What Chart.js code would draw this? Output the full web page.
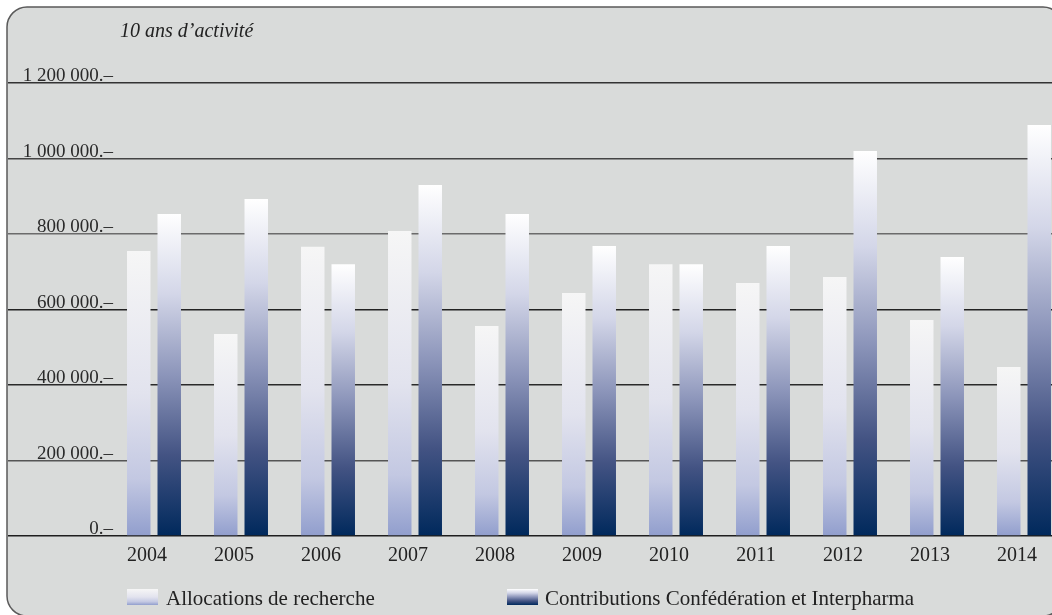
<!DOCTYPE html>
<html>
<head>
<meta charset="utf-8">
<script src="https://cdn.jsdelivr.net/npm/chart.js@4.4.0/dist/chart.umd.min.js"></script>
<style>
  html, body { margin: 0; padding: 0; overflow: hidden; background: #ffffff; }
  #wrap { width: 1070px; height: 615px; }
</style>
</head>
<body>
<div id="wrap"><canvas id="activite-chart"></canvas></div>
<script>
var years = ["2004", "2005", "2006", "2007", "2008", "2009", "2010", "2011", "2012", "2013", "2014"];
var allocations = [755000, 535000, 766000, 808000, 556000, 644000, 720000, 670000, 686000, 572000, 448000];
var contributions = [853000, 893000, 720000, 930000, 853000, 768000, 720000, 768000, 1020000, 739000, 1089000];
var yTicks = [0, 200000, 400000, 600000, 800000, 1000000, 1200000];
var yTickLabels = ["0.–", "200 000.–", "400 000.–", "600 000.–", "800 000.–", "1 000 000.–", "1 200 000.–"];
var gridColors = ["#1e1e1e", "#555555", "#2a2a2a", "#222222", "#6b6b6b", "#444444", "#333333"];
var seriesNames = ["Allocations de recherche", "Contributions Confédération et Interpharma"];
var title = "10 ans d’activité";

var serif = "'Liberation Serif', 'DejaVu Serif', serif";

function lightGradient(c, top, base) {
  var g = c.createLinearGradient(0, top, 0, base);
  g.addColorStop(0, "#f6f6f6");
  g.addColorStop(0.5, "#e2e3ee");
  g.addColorStop(0.8, "#c3c8e2");
  g.addColorStop(1, "#919ecd");
  return g;
}

function darkGradient(c, top, base) {
  var g = c.createLinearGradient(0, top, 0, base);
  g.addColorStop(0, "#ffffff");
  g.addColorStop(0.25, "#d3d6e8");
  g.addColorStop(0.5, "#8c95ba");
  g.addColorStop(0.75, "#435383");
  g.addColorStop(1, "#00295c");
  return g;
}

function barFill(maker, fallback) {
  return function (context) {
    var chart = context.chart;
    if (context.type !== "data" || !chart.chartArea) return fallback;
    var y = chart.scales.y;
    var top = y.getPixelForValue(context.parsed.y);
    var base = y.getPixelForValue(0);
    return maker(chart.ctx, top, base);
  };
}

var framePlugin = {
  id: "frame",
  beforeDraw: function (chart) {
    var c = chart.ctx;
    c.save();
    c.fillStyle = "#ffffff";
    c.fillRect(0, 0, chart.width, chart.height);
    c.beginPath();
    c.roundRect(7, 7, 1056, 609, 20);
    c.fillStyle = "#d9dbda";
    c.fill();
    c.lineWidth = 1.5;
    c.strokeStyle = "#5a5a5a";
    c.stroke();
    c.restore();
  },
  afterDraw: function (chart) {
    var c = chart.ctx;
    var yScale = chart.scales.y;
    c.save();
    c.fillStyle = "#222222";
    c.font = "italic 20px " + serif;
    c.textBaseline = "alphabetic";
    c.fillText(title, 120, 37);

    // y tick labels sit just above their grid line
    c.font = "19px " + serif;
    c.textAlign = "right";
    c.fillStyle = "#2a2a2a";
    yTicks.forEach(function (v, i) {
      c.fillText(yTickLabels[i], 113, yScale.getPixelForValue(v) - 2);
    });

    // legend
    c.textAlign = "left";
    c.font = "21px " + serif;
    c.fillStyle = lightGradient(c, 589, 605);
    c.fillRect(127, 589, 31, 16);
    c.fillStyle = darkGradient(c, 589, 605);
    c.fillRect(507, 589, 31, 16);
    c.fillStyle = "#222222";
    c.fillText(seriesNames[0], 166, 605);
    c.fillText(seriesNames[1], 545, 605);
    c.restore();
  }
};

var ctx = document.getElementById("activite-chart");

window.myChart = new Chart(ctx, {
  type: "bar",
  data: {
    labels: years,
    datasets: [
      {
        label: seriesNames[0],
        data: allocations,
        backgroundColor: barFill(lightGradient, "#c3c8e2"),
        borderWidth: 0,
        categoryPercentage: 0.701,
        barPercentage: 0.77,
      },
      {
        label: seriesNames[1],
        data: contributions,
        backgroundColor: barFill(darkGradient, "#435383"),
        borderWidth: 0,
        categoryPercentage: 0.701,
        barPercentage: 0.77,
      },
    ],
  },
  options: {
    responsive: true,
    maintainAspectRatio: false,
    animation: false,
    layout: {
      padding: { left: 8, right: 2.5, top: 83, bottom: 0 },
    },
    plugins: {
      legend: { display: false },
      tooltip: { enabled: false },
    },
    scales: {
      x: {
        grid: { display: false },
        border: { display: false },
        ticks: {
          color: "#222222",
          font: { family: serif, size: 20 },
          padding: 0,
          labelOffset: -7,
          maxRotation: 0,
        },
        afterFit: function (scale) {
          scale.height = 79;
        },
      },
      y: {
        min: 0,
        max: 1200000,
        border: { display: false },
        afterBuildTicks: function (scale) {
          scale.ticks = yTicks.map(function (v) {
            return { value: v };
          });
        },
        grid: {
          color: function (context) {
            return gridColors[context.index] || "#444444";
          },
          lineWidth: 1.6,
          tickLength: 102.5,
        },
        ticks: { display: false },
        afterFit: function (scale) {
          scale.width = 102.5;
        },
      },
    },
  },
  plugins: [framePlugin],
});
</script>
</body>
</html>
